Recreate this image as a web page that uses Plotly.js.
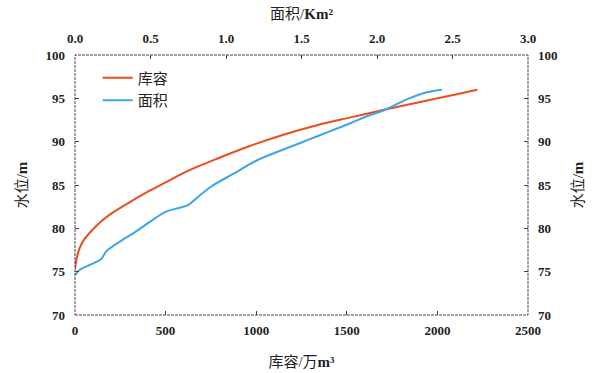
<!DOCTYPE html>
<html>
<head>
<meta charset="utf-8">
<script src="https://cdn.plot.ly/plotly-3.0.1.min.js"></script>
<style>html,body{margin:0;padding:0;background:#fff;}#chart{width:600px;height:373px;}</style>
</head>
<body>
<div id="chart"></div>
<script>
// 库容 (万m³) vs 水位 (m)
const storageVol = [0, 10, 25, 50, 100, 150, 200, 300, 400, 500, 600, 780, 965, 1150, 1335, 1520, 1700, 1900, 2100, 2220];
const storageLevel = [75.3, 76.6, 77.7, 78.7, 79.9, 80.9, 81.7, 83.0, 84.2, 85.3, 86.4, 88.0, 89.5, 90.8, 91.9, 92.8, 93.65, 94.55, 95.45, 96.0];
// 面积 (Km²) vs 水位 (m)
const areaVal = [0, 0.03, 0.1, 0.17, 0.21, 0.3, 0.4, 0.5, 0.6, 0.7, 0.75, 0.8, 0.9, 1.05, 1.2, 1.38, 1.5, 1.6, 1.71, 1.82, 1.93, 2.05, 2.2, 2.33, 2.43];
const areaLevel = [74.6, 75.2, 75.8, 76.4, 77.4, 78.5, 79.6, 80.8, 81.9, 82.4, 82.7, 83.4, 84.8, 86.3, 87.8, 89.1, 89.9, 90.6, 91.35, 92.1, 92.9, 93.65, 94.9, 95.7, 96.0];

const seriesNames = ['库容', '面积'];
const bottomTicks = [0, 500, 1000, 1500, 2000, 2500];
const topTicks = [0, 0.5, 1, 1.5, 2, 2.5, 3];
const topTickText = ['0.0', '0.5', '1.0', '1.5', '2.0', '2.5', '3.0'];
const yTicks = [70, 75, 80, 85, 90, 95, 100];

const serif = '"Liberation Serif", "Times New Roman", "Noto Sans CJK SC", serif';
const tickFont = {family: serif, size: 13, color: '#222', weight: 'bold'};
const titleFont = {family: serif, size: 15, color: '#222'};

const traces = [
  {x: storageVol, y: storageLevel, name: seriesNames[0], type: 'scatter', mode: 'lines',
   line: {color: '#ec4d1c', width: 2, shape: 'spline'}, xaxis: 'x', yaxis: 'y'},
  {x: areaVal, y: areaLevel, name: seriesNames[1], type: 'scatter', mode: 'lines',
   line: {color: '#3ea6e6', width: 2, shape: 'spline'}, xaxis: 'x2', yaxis: 'y2'}
];

const axisCommon = {showgrid: false, zeroline: false, showline: false, ticks: 'inside',
  ticklen: 4, tickcolor: '#444', tickwidth: 1, tickfont: tickFont};

const layout = {
  width: 600, height: 373,
  margin: {l: 75, r: 72, t: 55, b: 58},
  paper_bgcolor: '#fff', plot_bgcolor: '#fff',
  showlegend: true,
  legend: {x: 0.05, y: 0.975, xanchor: 'left', yanchor: 'top', bgcolor: 'rgba(0,0,0,0)',
    font: {family: serif, size: 15, color: '#222'}, tracegroupgap: 0, itemwidth: 30},
  xaxis: Object.assign({}, axisCommon, {range: [0, 2500], tickvals: bottomTicks, ticklabelstandoff: 6,
    title: {text: '库容/万<b>m³</b>', font: titleFont, standoff: 19}}),
  xaxis2: Object.assign({}, axisCommon, {range: [0, 3], tickvals: topTicks, ticktext: topTickText,
    overlaying: 'x', side: 'top', anchor: 'y', ticklabelstandoff: 8,
    title: {text: '面积/<b>Km²</b>', font: titleFont, standoff: 8}}),
  yaxis: Object.assign({}, axisCommon, {range: [70, 100], tickvals: yTicks, ticklabelstandoff: 9,
    title: {text: '水位/<b>m</b>', font: titleFont, standoff: 14}}),
  yaxis2: Object.assign({}, axisCommon, {range: [70, 100], tickvals: yTicks, ticklabelstandoff: 9,
    overlaying: 'y', side: 'right', anchor: 'x',
    title: {text: '水位/<b>m</b>', font: titleFont, standoff: 15}}),
  shapes: [
    {type: 'rect', xref: 'paper', yref: 'paper', x0: 0, x1: 1, y0: 0, y1: 1,
     line: {color: '#444', width: 1, dash: '3px,1px'}, layer: 'above'}
  ]
};

Plotly.newPlot('chart', traces, layout, {displayModeBar: false, staticPlot: true});
</script>
</body>
</html>
